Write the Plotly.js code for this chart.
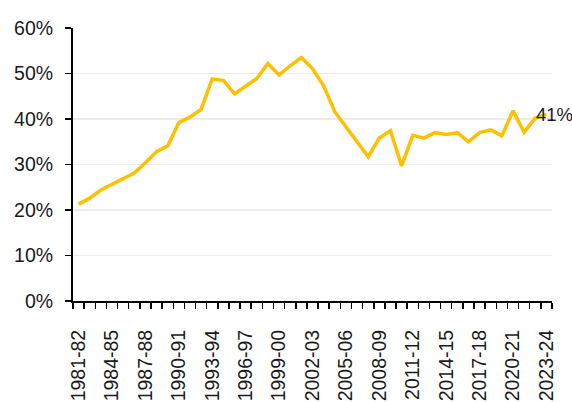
<!DOCTYPE html>
<html>
<head>
<meta charset="utf-8">
<script src="https://cdn.plot.ly/plotly-3.0.1.min.js"></script>
<style>
  html, body { margin: 0; padding: 0; background: #fff; }
  #myDiv { width: 572px; height: 402px; }
</style>
</head>
<body>
<div id="myDiv"></div>
<script>
// fiscal years, one point each
const years = [
  '1981-82','1982-83','1983-84','1984-85','1985-86','1986-87','1987-88','1988-89',
  '1989-90','1990-91','1991-92','1992-93','1993-94','1994-95','1995-96','1996-97',
  '1997-98','1998-99','1999-00','2000-01','2001-02','2002-03','2003-04','2004-05',
  '2005-06','2006-07','2007-08','2008-09','2009-10','2010-11','2011-12','2012-13',
  '2013-14','2014-15','2015-16','2016-17','2017-18','2018-19','2019-20','2020-21',
  '2021-22','2022-23','2023-24'
];

// share, %
const share = [
  21.3, 22.6, 24.4, 25.6, 27.0, 28.1, 30.4, 32.8,
  34.1, 39.2, 40.4, 42.1, 48.8, 48.5, 45.5, 47.1,
  48.9, 52.2, 49.7, 51.7, 53.5, 51.1, 47.3, 41.6,
  38.3, 34.8, 31.7, 35.8, 37.4, 29.7, 36.4, 35.8,
  37.0, 36.6, 37.0, 35.0, 37.0, 37.6, 36.3, 41.8,
  37.1, 40.2, 41.0
];

const endLabel = '41%';

function plotShare() {
  // category index so the ticks can sit on the boundaries
  let idx = years.map((y, i) => i);

  let labelVals = [];
  let labelText = [];
  for (let i = 0; i < years.length; i += 3) {
    labelVals.push(i);
    labelText.push(years[i]);
  }
  let bounds = [];
  for (let i = 0; i <= years.length; i++) bounds.push(i - 0.5);

  var trace1 = {
    x: idx,
    y: share,
    mode: 'lines',
    type: 'scatter',
    line: { color: '#FFC000', width: 3.5 },
    hoverinfo: 'skip'
  };

  var layout = {
    width: 572,
    height: 402,
    margin: { l: 73, r: 20, t: 28, b: 101 },
    paper_bgcolor: '#fff',
    plot_bgcolor: '#fff',
    showlegend: false,
    font: { family: 'Liberation Sans, Arial, sans-serif', size: 19.5, color: '#1a1a1a' },
    xaxis: {
      range: [-0.5, years.length - 0.5],
      tickmode: 'array',
      tickvals: labelVals,
      ticktext: labelText,
      tickangle: -90,
      ticks: '',
      ticklabelstandoff: 19,
      showgrid: false,
      zeroline: false,
      showline: true,
      linecolor: '#000',
      linewidth: 2,
      minor: {
        tickmode: 'array',
        tickvals: bounds,
        ticks: 'outside',
        ticklen: 6,
        tickwidth: 1.5,
        tickcolor: '#000',
        showgrid: false
      },
      fixedrange: true
    },
    yaxis: {
      range: [0, 60],
      dtick: 10,
      ticksuffix: '%',
      ticks: 'outside',
      ticklen: 6,
      tickwidth: 1.5,
      tickcolor: '#000',
      ticklabelstandoff: 8,
      showgrid: true,
      gridcolor: '#ececec',
      gridwidth: 1.5,
      zeroline: false,
      showline: true,
      linecolor: '#000',
      linewidth: 2,
      fixedrange: true
    },
    annotations: [{
      x: idx[idx.length - 1],
      y: share[share.length - 1],
      text: endLabel,
      showarrow: false,
      xanchor: 'left',
      yanchor: 'middle',
      xshift: -12,
      font: { size: 18.5, color: '#1a1a1a' }
    }]
  };

  Plotly.newPlot('myDiv', [trace1], layout, { displayModeBar: false, staticPlot: true });
}

plotShare();
</script>
</body>
</html>
